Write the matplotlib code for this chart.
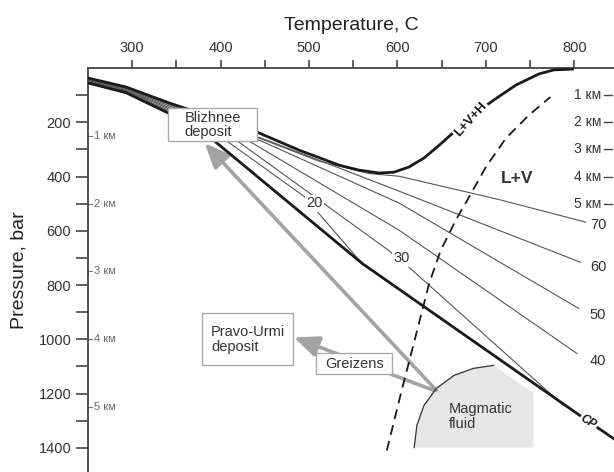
import matplotlib
matplotlib.use("Agg")
import matplotlib.pyplot as plt
import matplotlib.transforms as mtransforms
from matplotlib.patches import Polygon, Rectangle

plt.rcParams["font.family"] = ["Liberation Sans", "DejaVu Sans"]

# Halite saturation curve (L+V+H boundary), T in C and P in bar
halite_t = [250, 293, 342, 441, 489, 534, 556, 579, 596, 613, 630, 650,
            681, 709, 734, 760, 777, 798]
halite_p = [37, 70, 129, 236, 303, 358, 376, 387, 384, 365, 332, 277,
            185, 118, 63, 22, 7, 4]

# Critical curve of the fluid, ends at CP
crit_t = [250, 293, 342, 393, 560, 803, 845]
crit_p = [55, 91, 168, 269, 720, 1273, 1367]

# Isopleths of salinity (wt.%)
iso70_t = [250, 293, 342, 441, 511, 568, 602, 715, 813]
iso70_p = [39, 73, 135, 255, 343, 389, 399, 485, 568]
iso60_t = [250, 293, 342, 455, 602, 807]
iso60_p = [42, 76, 140, 269, 454, 716]
iso50_t = [250, 293, 342, 446, 602, 805]
iso50_p = [45, 79, 146, 269, 498, 886]
iso40_t = [250, 293, 342, 432, 602, 803]
iso40_p = [47, 82, 151, 269, 598, 1052]
iso30_t = [250, 293, 342, 419, 590, 613, 788]
iso30_p = [50, 85, 157, 269, 672, 734, 1244]
iso20_t = [250, 293, 342, 407, 494, 560]
iso20_p = [52, 88, 162, 269, 472, 720]

# Labels at the ends of the isopleths
end_labels = ["70", "60", "50", "40"]
end_p = [579, 734, 911, 1081]

# Dashed boundary of the L+V field
dash_t = [588, 604, 636, 649, 666, 681, 700, 723, 749, 773]
dash_p = [1410, 1199, 793, 672, 561, 476, 365, 258, 173, 107]

# Field of magmatic fluid
magma_t = [619, 622, 630, 644, 664, 686, 709, 754, 754]
magma_p = [1399, 1317, 1244, 1181, 1133, 1107, 1096, 1199, 1399]

# Depth scales: lithostatic (left) and hydrostatic (right)
lith_p = [250, 500, 750, 1000, 1250]
hydro_p = [100, 200, 300, 400, 500]
depth_km = [1, 2, 3, 4, 5]

fig = plt.figure(figsize=(6.14, 4.72), dpi=100)
ax = fig.add_axes([88 / 614, 0, 526 / 614, 404 / 472])
ax.set_xlim(250, 845)
ax.set_ylim(1489, 0)

line_col = "#555555"
dark = "#1a1a1a"

# thin isopleths
for t, p in [(iso70_t, iso70_p), (iso60_t, iso60_p), (iso50_t, iso50_p),
             (iso40_t, iso40_p), (iso30_t, iso30_p), (iso20_t, iso20_p)]:
    ax.plot(t, p, color=line_col, lw=0.8, zorder=3)

ax.plot(halite_t, halite_p, color=dark, lw=2, zorder=4)
ax.plot(crit_t, crit_p, color=dark, lw=2, zorder=4)
ax.plot(dash_t, dash_p, color=dark, lw=1.3, ls=(0, (5.5, 3.5)), zorder=4)

# magmatic fluid
ax.add_patch(Polygon(list(zip(magma_t, magma_p)), closed=True,
                     fc="#e6e6e6", ec="none", zorder=2))
ax.plot(magma_t[:7], magma_p[:7], color="#333333", lw=0.9, zorder=3)
ax.text(658, 1284, "Magmatic\nfluid", fontsize=10.5, color="#333333",
        va="center", ha="left", linespacing=1.1, zorder=5)

# gray arrows
arrow_kw = dict(arrowstyle="-|>,head_length=0.75,head_width=0.32",
                color="#a3a3a3", lw=2.6, mutation_scale=20,
                shrinkA=0, shrinkB=0)
ax.annotate("", xy=(382, 277), xytext=(644, 1188), arrowprops=arrow_kw, zorder=2.5)
ax.annotate("", xy=(483, 993), xytext=(641, 1188), arrowprops=arrow_kw, zorder=2.5)

# labelled boxes
box_kw = dict(fc="white", ec="#aaaaaa", lw=1.0, zorder=6)
ax.add_patch(Rectangle((341, 148), 100, 121, **box_kw))
ax.text(359, 210, "Blizhnee\ndeposit", fontsize=10.5, color="#333333",
        va="center", ha="left", linespacing=1.05, zorder=7)
ax.add_patch(Rectangle((379, 904), 103, 192, **box_kw))
ax.text(389, 1000, "Pravo-Urmi\ndeposit", fontsize=10.5, color="#333333",
        va="center", ha="left", linespacing=1.05, zorder=7)
ax.add_patch(Rectangle((508, 1052), 86, 77, **box_kw))
ax.text(518, 1090, "Greizens", fontsize=10.5, color="#333333",
        va="center", ha="left", zorder=7)

# labels on the curves
white = dict(fc="white", ec="none", pad=1)
ax.text(506, 498, "20", fontsize=10.5, color="#333333", ha="center",
        va="center", bbox=white, zorder=5)
ax.text(605, 701, "30", fontsize=10.5, color="#333333", ha="center",
        va="center", bbox=white, zorder=5)
for lab, p in zip(end_labels, end_p):
    ax.text(827, p, lab, fontsize=10.5, color="#333333", ha="center",
            va="center", zorder=5)
ax.text(683, 190, "L+V+H", fontsize=9.5, fontweight="bold", color=dark,
        rotation=48, ha="center", va="center", bbox=white, zorder=5)
ax.text(735, 406, "L+V", fontsize=12.5, fontweight="bold", color="#333333",
        ha="center", va="center", zorder=5)
ax.text(816, 1306, "CP", fontsize=8.5, fontweight="bold", style="italic",
        color=dark, rotation=-33, ha="center", va="center", bbox=white, zorder=5)

# depth scales
trans = mtransforms.blended_transform_factory(ax.transAxes, ax.transData)
for km, p in zip(depth_km, lith_p):
    ax.plot([0, 0.008], [p, p], color="#777777", lw=0.8, transform=trans)
    ax.text(0.012, p, f"{km} км", fontsize=8, color="#666666",
            ha="left", va="center", transform=trans)
for km, p in zip(depth_km, hydro_p):
    ax.plot([0.981, 0.996], [p, p], color="#444444", lw=1.0, transform=trans)
    ax.text(0.976, p, f"{km} км", fontsize=10, color="#333333",
            ha="right", va="center", transform=trans)

# axes
ax.xaxis.tick_top()
ax.xaxis.set_label_position("top")
ax.set_xticks([300, 400, 500, 600, 700, 800])
ax.set_xticks([350, 450, 550, 650, 750], minor=True)
ax.set_yticks([200, 400, 600, 800, 1000, 1200, 1400])
ax.set_yticks([100, 300, 500, 700, 900, 1100, 1300], minor=True)
ax.tick_params(axis="x", which="both", length=6, width=1.2, color="#444444",
               labelsize=10.5, labelcolor="#333333", pad=3)
ax.tick_params(axis="y", which="both", length=9, width=1.2, color="#444444",
               labelsize=10.5, labelcolor="#333333", pad=3)
ax.set_xlabel("Temperature, C", fontsize=14, color="#222222", labelpad=8)
ax.set_ylabel("Pressure, bar", fontsize=14, color="#222222", labelpad=8)
ax.spines["right"].set_visible(False)
ax.spines["bottom"].set_visible(False)
for s in ["top", "left"]:
    ax.spines[s].set_color("#444444")
    ax.spines[s].set_linewidth(1.3)

fig.savefig("out.png", dpi=100)
